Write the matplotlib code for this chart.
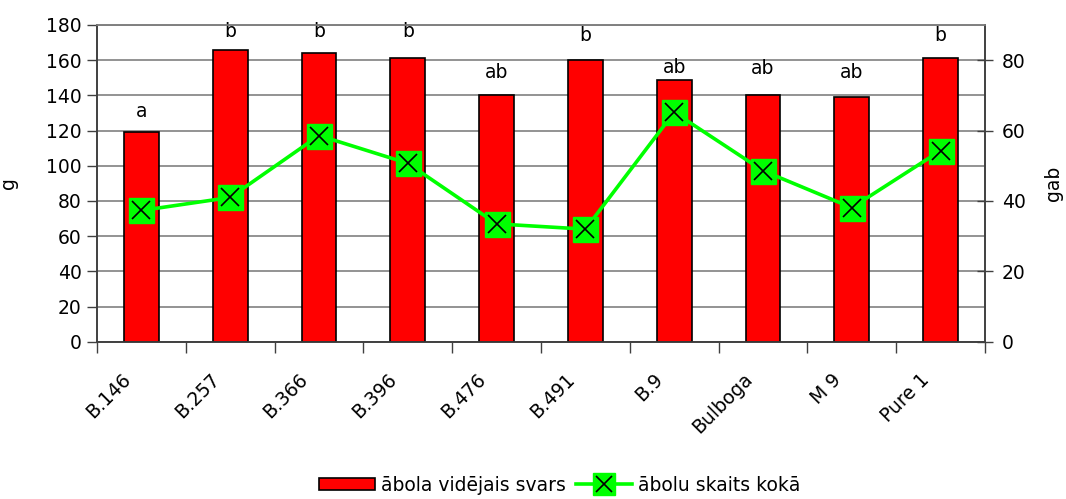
import matplotlib
matplotlib.use("Agg")
import matplotlib.pyplot as plt
import matplotlib.transforms as mtransforms
import numpy as np
from matplotlib.patches import Patch
from matplotlib.lines import Line2D

plt.rcParams['font.family'] = ['DejaVu Sans']
FS = 13.5

rootstocks = ["B.146", "B.257", "B.366", "B.396", "B.476", "B.491", "B.9",
              "Bulboga", "M 9", "Pure 1"]
mean_weight = [119, 166, 164, 161, 140, 160, 149, 140, 139, 161]
fruit_count = [37.3, 41.0, 58.6, 50.7, 33.5, 32.0, 65.2, 48.6, 38.1, 54.3]
groups = ["a", "b", "b", "b", "ab", "b", "ab", "ab", "ab", "b"]
group_y = [131, 176, 176, 176, 153, 174, 156, 155, 153, 174]

fig = plt.figure(figsize=(10.66, 4.99), dpi=100)
ax = fig.add_axes([0.091, 0.315, 0.833, 0.635])
ax2 = ax.twinx()

x = np.arange(len(rootstocks))
ax.bar(x, mean_weight, width=0.39, color="#ff0000", edgecolor="black",
       linewidth=1.2, zorder=3)
for xi, g, gy in zip(x, groups, group_y):
    ax.text(xi, gy, g, ha="center", va="center", fontsize=FS, zorder=4)

ax.set_xlim(-0.5, len(rootstocks) - 0.5)
ax.set_ylim(0, 180)
ax.set_yticks(np.arange(0, 181, 20))
ax.yaxis.grid(True, color="#808080", linewidth=1.2, zorder=0)
ax.set_axisbelow(True)
ax.set_xticks(np.arange(-0.5, len(rootstocks) - 0.5 + 0.01, 1.0))
ax.set_xticklabels([])
ax.tick_params(axis="x", which="major", length=8, width=1, color="#404040")

# category names, rotated and hanging below the axis
label_offset = mtransforms.ScaledTranslation(-10 / 72, -25 / 72,
                                             fig.dpi_scale_trans)
label_trans = ax.get_xaxis_transform() + label_offset
for xi, name in zip(x, rootstocks):
    ax.text(xi, 0, name, transform=label_trans, rotation=45, ha="right",
            va="center", rotation_mode="anchor", fontsize=FS, clip_on=False)

ax.tick_params(axis="y", length=7, width=1, color="#404040", labelsize=FS, pad=4)
ax.set_ylabel("g", fontsize=FS)
ax.yaxis.set_label_coords(-0.089, 0.5)

ax2.plot(x, fruit_count, color="#00ff00", linewidth=2.6, marker="s",
         markersize=18, markerfacecolor="#00ff00", markeredgecolor="#00ff00",
         zorder=5)
ax2.plot(x, fruit_count, linestyle="none", marker="x", markersize=13,
         markeredgecolor="black", markeredgewidth=1.2, zorder=6)
ax2.set_ylim(0, 90)
ax2.set_yticks(np.arange(0, 81, 20))
ax2.tick_params(axis="y", direction="inout", length=12, width=1,
                color="#404040", labelsize=FS, pad=6)
ax2.set_ylabel("gab", fontsize=FS)
ax2.yaxis.set_label_coords(1.066, 0.5)

for a in (ax, ax2):
    a.spines["top"].set_color("#808080")
    a.spines["top"].set_linewidth(1.2)
    for s in ("left", "right", "bottom"):
        a.spines[s].set_color("#404040")
        a.spines[s].set_linewidth(1.2)

bar_handle = Patch(facecolor="#ff0000", edgecolor="black", linewidth=1.2)
line_handle = Line2D([0], [0], color="#00ff00", linewidth=2.6, marker="s",
                     markersize=16, markerfacecolor="#00ff00",
                     markeredgecolor="#00ff00")
cross_handle = Line2D([0], [0], linestyle="none", marker="x", markersize=11,
                      markeredgecolor="black", markeredgewidth=1.2)
fig.legend([bar_handle, (line_handle, cross_handle)],
           ["ābola vidējais svars", "ābolu skaits kokā"],
           loc="center", bbox_to_anchor=(0.525, 0.028), ncol=2,
           frameon=False, fontsize=FS, handlelength=3.0, handleheight=0.6,
           handletextpad=0.35, columnspacing=0.5)

fig.savefig("out.png", dpi=100)
